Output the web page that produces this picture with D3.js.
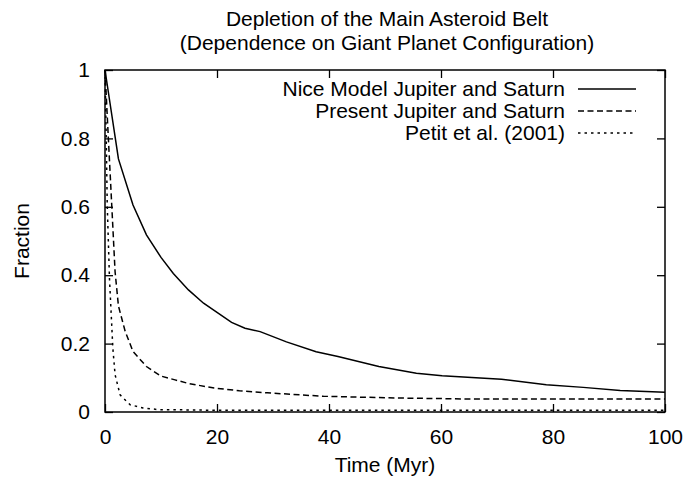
<!DOCTYPE html>
<html>
<head>
<meta charset="utf-8">
<script src="https://cdn.jsdelivr.net/npm/d3@7"></script>
<style>
  body { margin: 0; background: #fff; }
  text { font-family: "Liberation Sans", Arial, sans-serif; fill: #000; }
</style>
</head>
<body>
<div id="chart"></div>
<script>
// series: time (Myr) and fraction remaining
var niceTime = [0, 2.4, 5, 7.4, 10, 12.2, 14.9, 17.6, 20.2, 22.6, 25, 27.7, 32.4, 37.7, 41.6, 48.9, 55.6, 60.2, 65.5, 70.8, 78.8, 85.4, 92, 100];
var niceFrac = [1, 0.74, 0.605, 0.518, 0.452, 0.405, 0.357, 0.318, 0.289, 0.262, 0.245, 0.235, 0.205, 0.176, 0.162, 0.133, 0.113, 0.106, 0.101, 0.096, 0.08, 0.072, 0.063, 0.058];

var presentTime = [0, 0.6, 1.2, 1.8, 2.4, 3.6, 5, 7.4, 10, 12.5, 15, 19.5, 24, 29, 39, 52, 65, 80, 100];
var presentFrac = [1, 0.8, 0.606, 0.41, 0.31, 0.236, 0.177, 0.133, 0.105, 0.094, 0.083, 0.07, 0.062, 0.056, 0.046, 0.041, 0.038, 0.038, 0.038];

var petitTime = [0, 0.2, 0.4, 0.8, 1.4, 1.8, 2.7, 4.5, 6.8, 9.5, 15, 20, 40, 60, 80, 100];
var petitFrac = [1, 0.82, 0.606, 0.39, 0.187, 0.109, 0.05, 0.021, 0.012, 0.007, 0.006, 0.005, 0.005, 0.005, 0.005, 0.005];

var seriesNames = ["Nice Model Jupiter and Saturn", "Present Jupiter and Saturn", "Petit et al. (2001)"];
var xTicks = [0, 20, 40, 60, 80, 100];
var yTicks = [0, 0.2, 0.4, 0.6, 0.8, 1];

var W = 683, H = 479;
var margin = {top: 70, right: 18, bottom: 67, left: 105};
var w = W - margin.left - margin.right, h = H - margin.top - margin.bottom;
var fs = 21;

var svg = d3.select("#chart").append("svg").attr("width", W).attr("height", H);
var g = svg.append("g").attr("transform", "translate(" + margin.left + "," + margin.top + ")");

var x = d3.scaleLinear().domain([0, 100]).range([0, w]);
var y = d3.scaleLinear().domain([0, 1]).range([h, 0]);

// gnuplot style: ticks inward on all four sides
var tl = 8;
g.append("g").attr("transform", "translate(0," + h + ")")
  .call(d3.axisBottom(x).tickValues(xTicks).tickSize(-tl).tickPadding(17).tickFormat(d3.format("d")));
g.append("g")
  .call(d3.axisTop(x).tickValues(xTicks).tickSize(-tl).tickFormat(""));
g.append("g")
  .call(d3.axisLeft(y).tickValues(yTicks).tickSize(-tl).tickPadding(15).tickFormat(function(d){ return d === 0 || d === 1 ? d3.format("d")(d) : d3.format(".1f")(d); }));
g.append("g").attr("transform", "translate(" + w + ",0)")
  .call(d3.axisRight(y).tickValues(yTicks).tickSize(-tl).tickFormat(""));

g.selectAll(".domain").remove();
g.selectAll(".tick line").attr("stroke", "#000").attr("stroke-width", 1.3);
g.selectAll(".tick text").attr("font-size", fs).attr("font-family", "Liberation Sans, Arial, sans-serif");

g.append("rect").attr("width", w).attr("height", h)
  .attr("fill", "none").attr("stroke", "#000").attr("stroke-width", 1.5);

var styles = ["none", "6,3.5", "2.5,4"];
var data = [
  d3.zip(niceTime, niceFrac),
  d3.zip(presentTime, presentFrac),
  d3.zip(petitTime, petitFrac)
];

var line = d3.line().x(function(d){ return x(d[0]); }).y(function(d){ return y(d[1]); });

g.selectAll("path.series")
  .data(data).enter().append("path")
  .attr("class", "series")
  .attr("d", line)
  .attr("fill", "none")
  .attr("stroke", "#000")
  .attr("stroke-width", 1.5)
  .attr("stroke-dasharray", function(d, i){ return styles[i]; });

// legend, top right, text right-aligned
var leg = g.selectAll("g.leg").data(seriesNames).enter().append("g")
  .attr("class", "leg")
  .attr("transform", function(d, i){ return "translate(0," + (19 + i * 22) + ")"; });
leg.append("text")
  .attr("x", 460).attr("dy", "0.35em").attr("text-anchor", "end").attr("font-size", fs)
  .text(function(d){ return d; });
leg.append("line")
  .attr("x1", 473).attr("x2", 531)
  .attr("stroke", "#000").attr("stroke-width", 1.5)
  .attr("stroke-dasharray", function(d, i){ return styles[i]; });

// titles
svg.append("text").attr("x", 387).attr("y", 26).attr("text-anchor", "middle").attr("font-size", fs)
  .text("Depletion of the Main Asteroid Belt");
svg.append("text").attr("x", 387).attr("y", 50).attr("text-anchor", "middle").attr("font-size", fs)
  .text("(Dependence on Giant Planet Configuration)");
svg.append("text").attr("x", margin.left + w / 2).attr("y", 472).attr("text-anchor", "middle").attr("font-size", fs)
  .text("Time (Myr)");
svg.append("text").attr("transform", "translate(29," + (margin.top + h / 2) + ") rotate(-90)")
  .attr("text-anchor", "middle").attr("font-size", fs)
  .text("Fraction");
</script>
</body>
</html>
